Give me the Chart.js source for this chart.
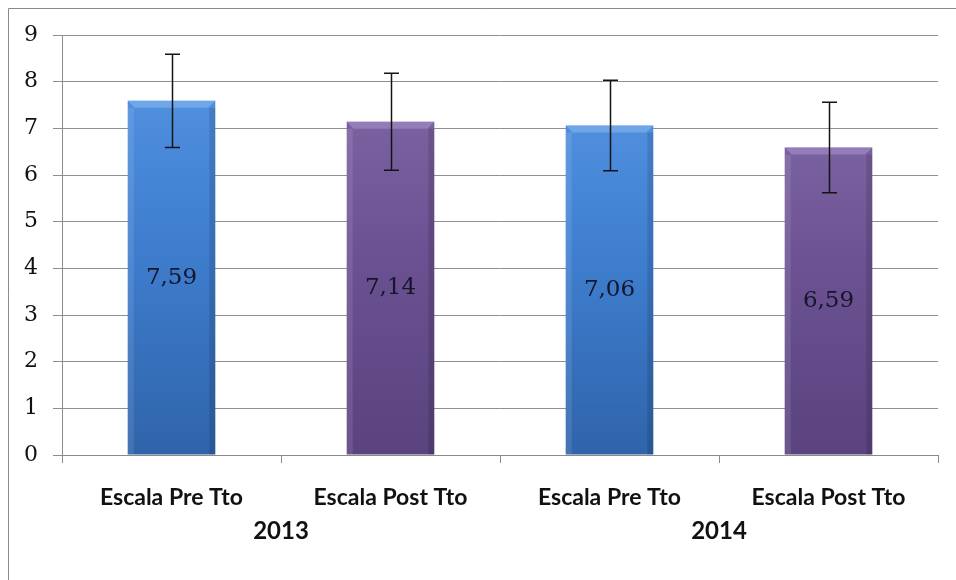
<!DOCTYPE html>
<html>
<head>
<meta charset="utf-8">
<script src="https://cdn.jsdelivr.net/npm/chart.js@4"></script>
<style>
html,body{margin:0;padding:0;background:#fff;}
#wrap{position:relative;width:956px;height:580px;}
</style>
</head>
<body>
<div id="wrap"><canvas id="c" width="956" height="580"></canvas></div>
<script>
const categories = ["Escala Pre Tto", "Escala Post Tto", "Escala Pre Tto", "Escala Post Tto"];
const groups = ["2013", "2014"];
const values = [7.59, 7.14, 7.06, 6.59];
const errors = [1.0, 1.04, 0.97, 0.97];
const valueLabels = ["7,59", "7,14", "7,06", "6,59"];
const yTicks = [0, 1, 2, 3, 4, 5, 6, 7, 8, 9];

const palettes = [
  {top: "#4f8fde", mid: "#3f7ecf", bottom: "#2f64aa", hi: "rgba(140,185,240,0.55)"},
  {top: "#7a61a0", mid: "#6b5191", bottom: "#5a437f", hi: "rgba(170,150,205,0.55)"},
  {top: "#4f8fde", mid: "#3f7ecf", bottom: "#2f64aa", hi: "rgba(140,185,240,0.55)"},
  {top: "#7a61a0", mid: "#6b5191", bottom: "#5a437f", hi: "rgba(170,150,205,0.55)"}
];

function barFill(ctx) {
  const chart = ctx.chart;
  const ca = chart.chartArea;
  const p = palettes[ctx.dataIndex % palettes.length];
  if (!ca || !chart.scales.y) return p.mid;
  const yTop = chart.scales.y.getPixelForValue(values[ctx.dataIndex]);
  const yBot = chart.scales.y.getPixelForValue(0);
  const g = chart.ctx.createLinearGradient(0, yTop, 0, yBot);
  g.addColorStop(0, p.top);
  g.addColorStop(0.4, p.mid);
  g.addColorStop(1, p.bottom);
  return g;
}

const framePlugin = {
  id: "frame",
  beforeDraw(chart) {
    const c = chart.ctx;
    c.save();
    c.strokeStyle = "#8a8a8a";
    c.lineWidth = 1;
    c.beginPath();
    c.moveTo(8.5, 580);
    c.lineTo(8.5, 8.5);
    c.lineTo(956, 8.5);
    c.stroke();
    c.restore();
  }
};

const extrasPlugin = {
  id: "extras",
  afterDatasetsDraw(chart) {
    const c = chart.ctx;
    const xs = chart.scales.x, ys = chart.scales.y;
    const meta = chart.getDatasetMeta(0);
    c.save();
    meta.data.forEach((bar, i) => {
      const p = palettes[i % palettes.length];
      const left = bar.x - bar.width / 2, right = bar.x + bar.width / 2;
      const top = bar.y, bottom = bar.base;
      c.fillStyle = p.hi;
      c.beginPath();
      c.moveTo(left, top);
      c.lineTo(right, top);
      c.lineTo(right - 7, top + 7);
      c.lineTo(left + 7, top + 7);
      c.closePath();
      c.fill();
      c.fillStyle = "rgba(255,255,255,0.10)";
      c.fillRect(left, top + 7, 6, bottom - top - 7);
      c.fillStyle = "rgba(0,0,0,0.12)";
      c.fillRect(right - 6, top + 7, 6, bottom - top - 7);
    });
    c.fillStyle = "#15152b";
    c.font = "23px 'DejaVu Serif'";
    c.textAlign = "center";
    c.textBaseline = "middle";
    meta.data.forEach((bar, i) => {
      c.fillText(valueLabels[i], bar.x, ys.getPixelForValue(values[i] / 2));
    });
    c.strokeStyle = "#141414";
    c.lineWidth = 1.5;
    meta.data.forEach((bar, i) => {
      const x = Math.round(bar.x) + 0.5;
      const yHi = ys.getPixelForValue(values[i] + errors[i]);
      const yLo = ys.getPixelForValue(values[i] - errors[i]);
      c.beginPath();
      c.moveTo(x, yHi); c.lineTo(x, yLo);
      c.moveTo(x - 7.5, yHi); c.lineTo(x + 7.5, yHi);
      c.moveTo(x - 7.5, yLo); c.lineTo(x + 7.5, yLo);
      c.stroke();
    });
    c.fillStyle = "#111";
    c.font = "bold 24px Lato";
    c.textBaseline = "middle";
    groups.forEach((g, gi) => {
      const x0 = xs.getPixelForValue(gi * 2), x1 = xs.getPixelForValue(gi * 2 + 1);
      c.fillText(g, (x0 + x1) / 2, 531);
    });
    c.restore();
  }
};

new Chart(document.getElementById("c"), {
  type: "bar",
  data: {
    labels: categories,
    datasets: [{
      data: values,
      backgroundColor: barFill,
      borderWidth: 0,
      barPercentage: 0.4,
      categoryPercentage: 1.0
    }]
  },
  options: {
    responsive: false,
    animation: false,
    devicePixelRatio: 1,
    layout: {padding: {left: 0, top: 35, right: 18, bottom: 0}},
    plugins: {legend: {display: false}, tooltip: {enabled: false}},
    scales: {
      x: {
        offset: true,
        afterFit(s) { s.height = 125; },
        grid: {display: true, drawOnChartArea: false, drawTicks: true, tickLength: 8, color: "#8a8a8a", offset: true},
        border: {display: true, color: "#8a8a8a"},
        ticks: {color: "#111", font: {family: "Lato", size: 23, weight: "bold"}, padding: 21, maxRotation: 0, autoSkip: false}
      },
      y: {
        min: 0, max: 9,
        afterFit(s) { s.width = 62; },
        afterBuildTicks(s) { s.ticks = yTicks.map(v => ({value: v})); },
        grid: {color: "#8f8f8f", lineWidth: 1, drawTicks: true, tickLength: 9},
        border: {display: true, color: "#8a8a8a"},
        ticks: {color: "#111", font: {family: "'DejaVu Serif'", size: 22}, padding: 15}
      }
    }
  },
  plugins: [framePlugin, extrasPlugin]
});
</script>
</body>
</html>
